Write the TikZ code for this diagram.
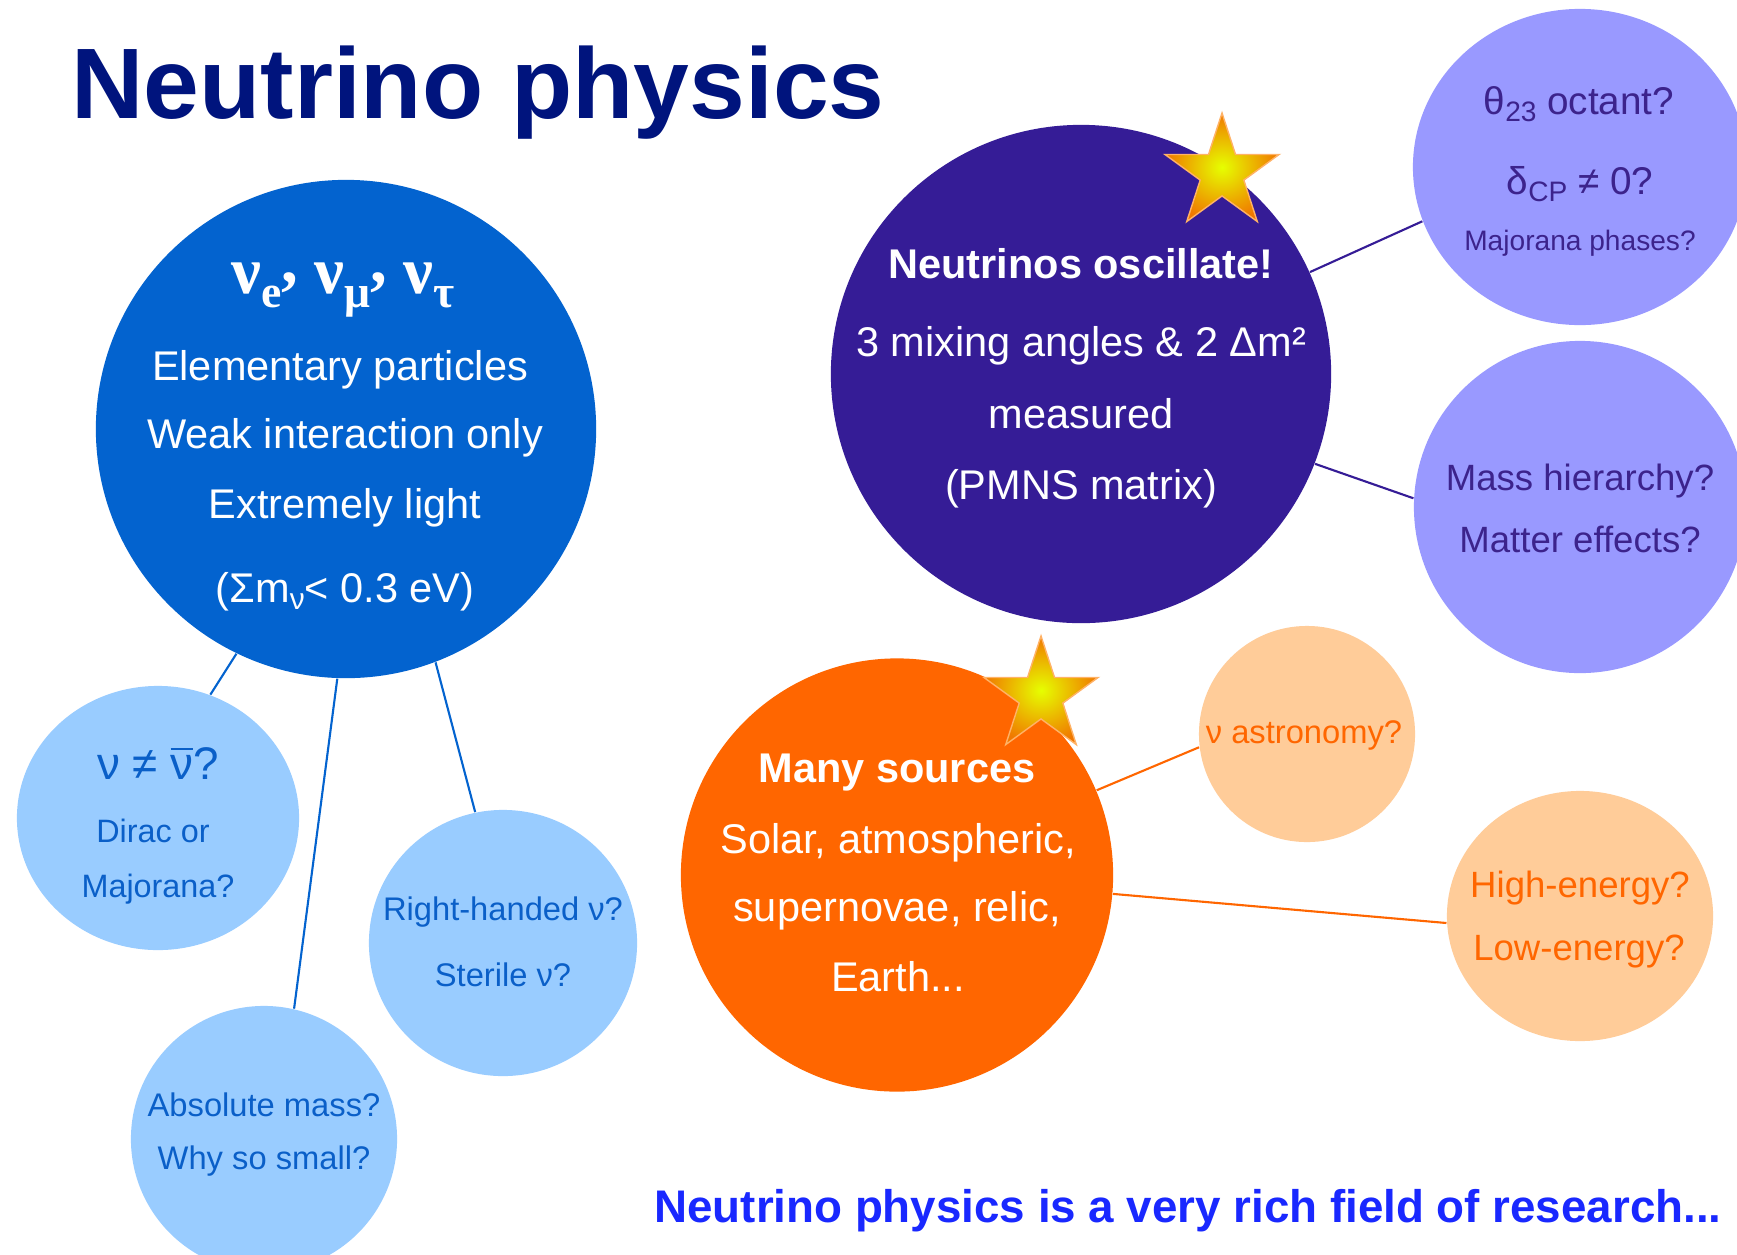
\documentclass[tikz,border=0pt]{standalone}
\usepackage{fontspec}
\setmainfont{Liberation Sans}
\newfontfamily\nuserif{Liberation Serif}
\usetikzlibrary{shapes.geometric,shadings}
\definecolor{titleblue}{RGB}{0,20,125}
\definecolor{bigblue}{RGB}{3,99,207}
\definecolor{lightblue}{RGB}{153,204,255}
\definecolor{lbtext}{RGB}{10,95,200}
\definecolor{oscpurple}{RGB}{53,28,150}
\definecolor{lavender}{RGB}{153,153,255}
\definecolor{lavtext}{RGB}{60,35,140}
\definecolor{srcorange}{RGB}{255,102,0}
\definecolor{peach}{RGB}{255,204,153}
\definecolor{footblue}{RGB}{25,40,255}
\definecolor{staryellow}{RGB}{230,255,0}
\definecolor{starorange}{RGB}{240,120,0}
\newcommand\fsz[1]{\fontsize{#1}{#1}\selectfont}
\newcommand\dsub[2]{\raisebox{-0.35ex}{\fsz{#1}#2}}
\newcommand\nubar{\vbox{\hrule height 0.06em\kern 0.1em\hbox{ν}}}
\begin{document}
\begin{tikzpicture}[x=0.01cm,y=-0.01cm,
  bub/.style={ellipse, inner sep=0pt, draw=none},
  txt/.style={anchor=base, inner sep=0pt, align=center},
  conn/.style={line width=0.6pt},
  starnode/.style={star, star points=5, star point ratio=2.618, minimum size=1.2cm,
     inner sep=0pt, shade, inner color=staryellow, outer color=starorange,
     draw=orange!60!white, line width=0.4pt}]
\path[use as bounding box] (0,0) rectangle (1737,1254);
\clip (0,0) rectangle (1737,1254);
\fill[white] (0,0) rectangle (1737,1254);

% bubbles
\node[bub, fill=bigblue, minimum width=5cm, minimum height=4.98cm] (nuc) at (346,429) {};
\node[bub, fill=oscpurple, minimum width=5cm, minimum height=4.98cm] (osc) at (1081,374) {};
\node[bub, fill=lavender, minimum width=3.34cm, minimum height=3.16cm] (oct) at (1580,167) {};
\node[bub, fill=lavender, minimum width=3.32cm, minimum height=3.32cm] (mass) at (1580,507) {};
\node[bub, fill=srcorange, minimum width=4.32cm, minimum height=4.33cm] (src) at (897,875) {};
\node[bub, fill=peach, minimum width=2.16cm, minimum height=2.16cm] (astro) at (1307,734) {};
\node[bub, fill=peach, minimum width=2.66cm, minimum height=2.5cm] (energy) at (1580,916) {};
\node[bub, fill=lightblue, minimum width=2.82cm, minimum height=2.64cm] (dirac) at (158,818) {};
\node[bub, fill=lightblue, minimum width=2.68cm, minimum height=2.66cm] (rhand) at (503,943) {};
\node[bub, fill=lightblue, minimum width=2.66cm, minimum height=2.66cm] (absm) at (264,1139) {};

% connectors
\draw[conn, bigblue] (nuc.-116.8) -- (dirac.67.4);
\draw[conn, bigblue] (nuc.-92.3) -- (absm.77.9);
\draw[conn, bigblue] (nuc.-69.6) -- (rhand.102.1);
\draw[conn, oscpurple] (osc.24.6) -- (oct.-161.5);
\draw[conn, oscpurple] (osc.-21.3) -- (mass.177.9);
\draw[conn, srcorange] (src.23.9) -- (astro.-173.2);
\draw[conn, srcorange] (src.-5.3) -- (energy.-177);

% stars
\node[starnode] (star1) at (1222,173) {};
\node[starnode] (star2) at (1041,696) {};

% title and footer
\node[txt, font=\fsz{28.5}\bfseries, text=titleblue] (title) at (478,118) {Neutrino physics};
\node[txt, font=\fsz{13}\bfseries, text=footblue] (foot) at (1188,1222) {Neutrino physics is a very rich field of research...};

% big blue texts
\begin{scope}[every node/.append style={text=white, font=\fsz{11.8}}]
\node[txt] (nuhead) at (343,293) {\nuserif\bfseries\fsz{19}ν\raisebox{-4pt}{\fsz{13}e}\raisebox{3pt}{,} ν\raisebox{-4pt}{\fsz{13}μ}\raisebox{3pt}{,} ν\raisebox{-4pt}{\fsz{13}τ}};
\node[txt] (nuc1) at (340,380) {Elementary particles};
\node[txt] (nuc2) at (345,448) {Weak interaction only};
\node[txt] (nuc3) at (345,518) {Extremely light};
\node[txt] (nuc4) at (345,602) {(Σm\dsub{8.5}{ν}< 0.3 eV)};
% oscillation texts
\node[txt, font=\fsz{11.8}\bfseries] (osc1) at (1081,278) {Neutrinos oscillate!};
\node[txt] (osc2) at (1081,356) {3 mixing angles \& 2 Δm²};
\node[txt] (osc3) at (1081,428) {measured};
\node[txt] (osc4) at (1081,499) {(PMNS matrix)};
% sources texts
\node[txt, font=\fsz{11.8}\bfseries] (src1) at (897,782) {Many sources};
\node[txt] (src2) at (898,853) {Solar, atmospheric,};
\node[txt] (src3) at (897,921) {supernovae, relic,};
\node[txt] (src4) at (898,991) {Earth...};
\end{scope}

% lavender texts
\begin{scope}[every node/.append style={text=lavtext}]
\node[txt, font=\fsz{11}] (oct1) at (1579,114) {θ\dsub{8}{23} octant?};
\node[txt, font=\fsz{11}] (oct2) at (1580,194) {δ\dsub{8}{CP} ≠ 0?};
\node[txt, font=\fsz{8}] (oct3) at (1580,250) {Majorana phases?};
\node[txt, font=\fsz{10.4}] (mass1) at (1580,490) {Mass hierarchy?};
\node[txt, font=\fsz{10.4}] (mass2) at (1580,552) {Matter effects?};
\end{scope}

% peach texts
\begin{scope}[every node/.append style={text=srcorange}]
\node[txt, font=\fsz{9.3}] (astro1) at (1304,743) {ν astronomy?};
\node[txt, font=\fsz{10.4}] (en1) at (1580,897) {High-energy?};
\node[txt, font=\fsz{10.4}] (en2) at (1579,960) {Low-energy?};
\end{scope}

% light blue texts
\begin{scope}[every node/.append style={text=lbtext}]
\node[txt, font=\fsz{13}] (dir1) at (158,779) {ν ≠ \nubar?};
\node[txt, font=\fsz{9.2}] (dir2) at (153,842) {Dirac or};
\node[txt, font=\fsz{9.2}] (dir3) at (158,897) {Majorana?};
\node[txt, font=\fsz{9.3}] (rh1) at (503,920) {Right-handed ν?};
\node[txt, font=\fsz{9.3}] (rh2) at (503,986) {Sterile ν?};
\node[txt, font=\fsz{9.3}] (abs1) at (264,1116) {Absolute mass?};
\node[txt, font=\fsz{9.3}] (abs2) at (264,1169) {Why so small?};
\end{scope}
\end{tikzpicture}
\end{document}
